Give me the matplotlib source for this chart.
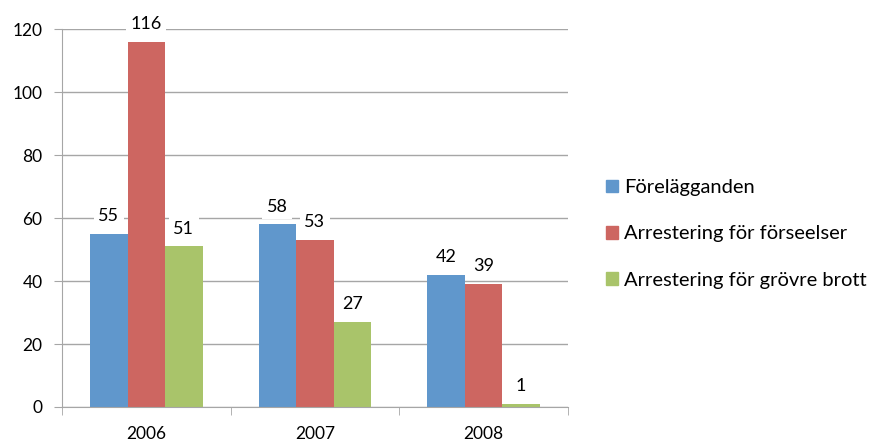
import numpy as np
import matplotlib
matplotlib.use("Agg")
import matplotlib.pyplot as plt
from matplotlib.patches import Patch

plt.rcParams['font.family'] = ['Lato', 'DejaVu Sans']

years = ['2006', '2007', '2008']
series_names = ['Förelägganden',
                'Arrestering för förseelser',
                'Arrestering för grövre brott']
forelagganden = [55, 58, 42]
forseelser = [116, 53, 39]
grovre = [51, 27, 1]
colors = ['#6097CC', '#CD6661', '#A9C46A']

fig = plt.figure(figsize=(8.75, 4.43), dpi=100)
ax = fig.add_axes([0.0709, 0.0813, 0.578, 0.853])

x = np.arange(len(years))
w = 1 / 4.5
for i, (vals, c) in enumerate(zip([forelagganden, forseelser, grovre], colors)):
    pos = x + (i - 1) * w
    bars = ax.bar(pos, vals, width=w, color=c, zorder=2)
    for b, v in zip(bars, vals):
        ax.annotate(str(v), (b.get_x() + b.get_width() / 2, v),
                    xytext=(0, 7), textcoords='offset points',
                    ha='center', va='bottom', fontsize=13, zorder=3,
                    bbox=dict(boxstyle='square,pad=0.25', fc='white', ec='none'))

ax.set_xlim(-0.5, 2.5)
ax.set_ylim(0, 120)
ax.set_yticks(range(0, 121, 20))
ax.yaxis.grid(True, color='#A6A6A6', linewidth=1, zorder=0)
ax.set_axisbelow(True)

ax.set_xticks(x)
ax.set_xticklabels(years)
ax.set_xticks([-0.5, 0.5, 1.5, 2.5], minor=True)
ax.tick_params(axis='x', which='major', length=0, pad=14, labelsize=12.5)
ax.tick_params(axis='x', which='minor', length=6, color='#A6A6A6')
ax.tick_params(axis='y', length=6, color='#A6A6A6', labelsize=12.5, pad=8)

for s in ['top', 'right']:
    ax.spines[s].set_visible(False)
for s in ['left', 'bottom']:
    ax.spines[s].set_color('#A6A6A6')

handles = [Patch(color=c) for c in colors]
fig.legend(handles, series_names, loc='center left',
           bbox_to_anchor=(0.692, 0.472), frameon=False, fontsize=14.5,
           handlelength=0.6, handleheight=0.6, handletextpad=0.3,
           labelspacing=1.45, borderpad=0, borderaxespad=0)

fig.savefig('out.png', dpi=100)
